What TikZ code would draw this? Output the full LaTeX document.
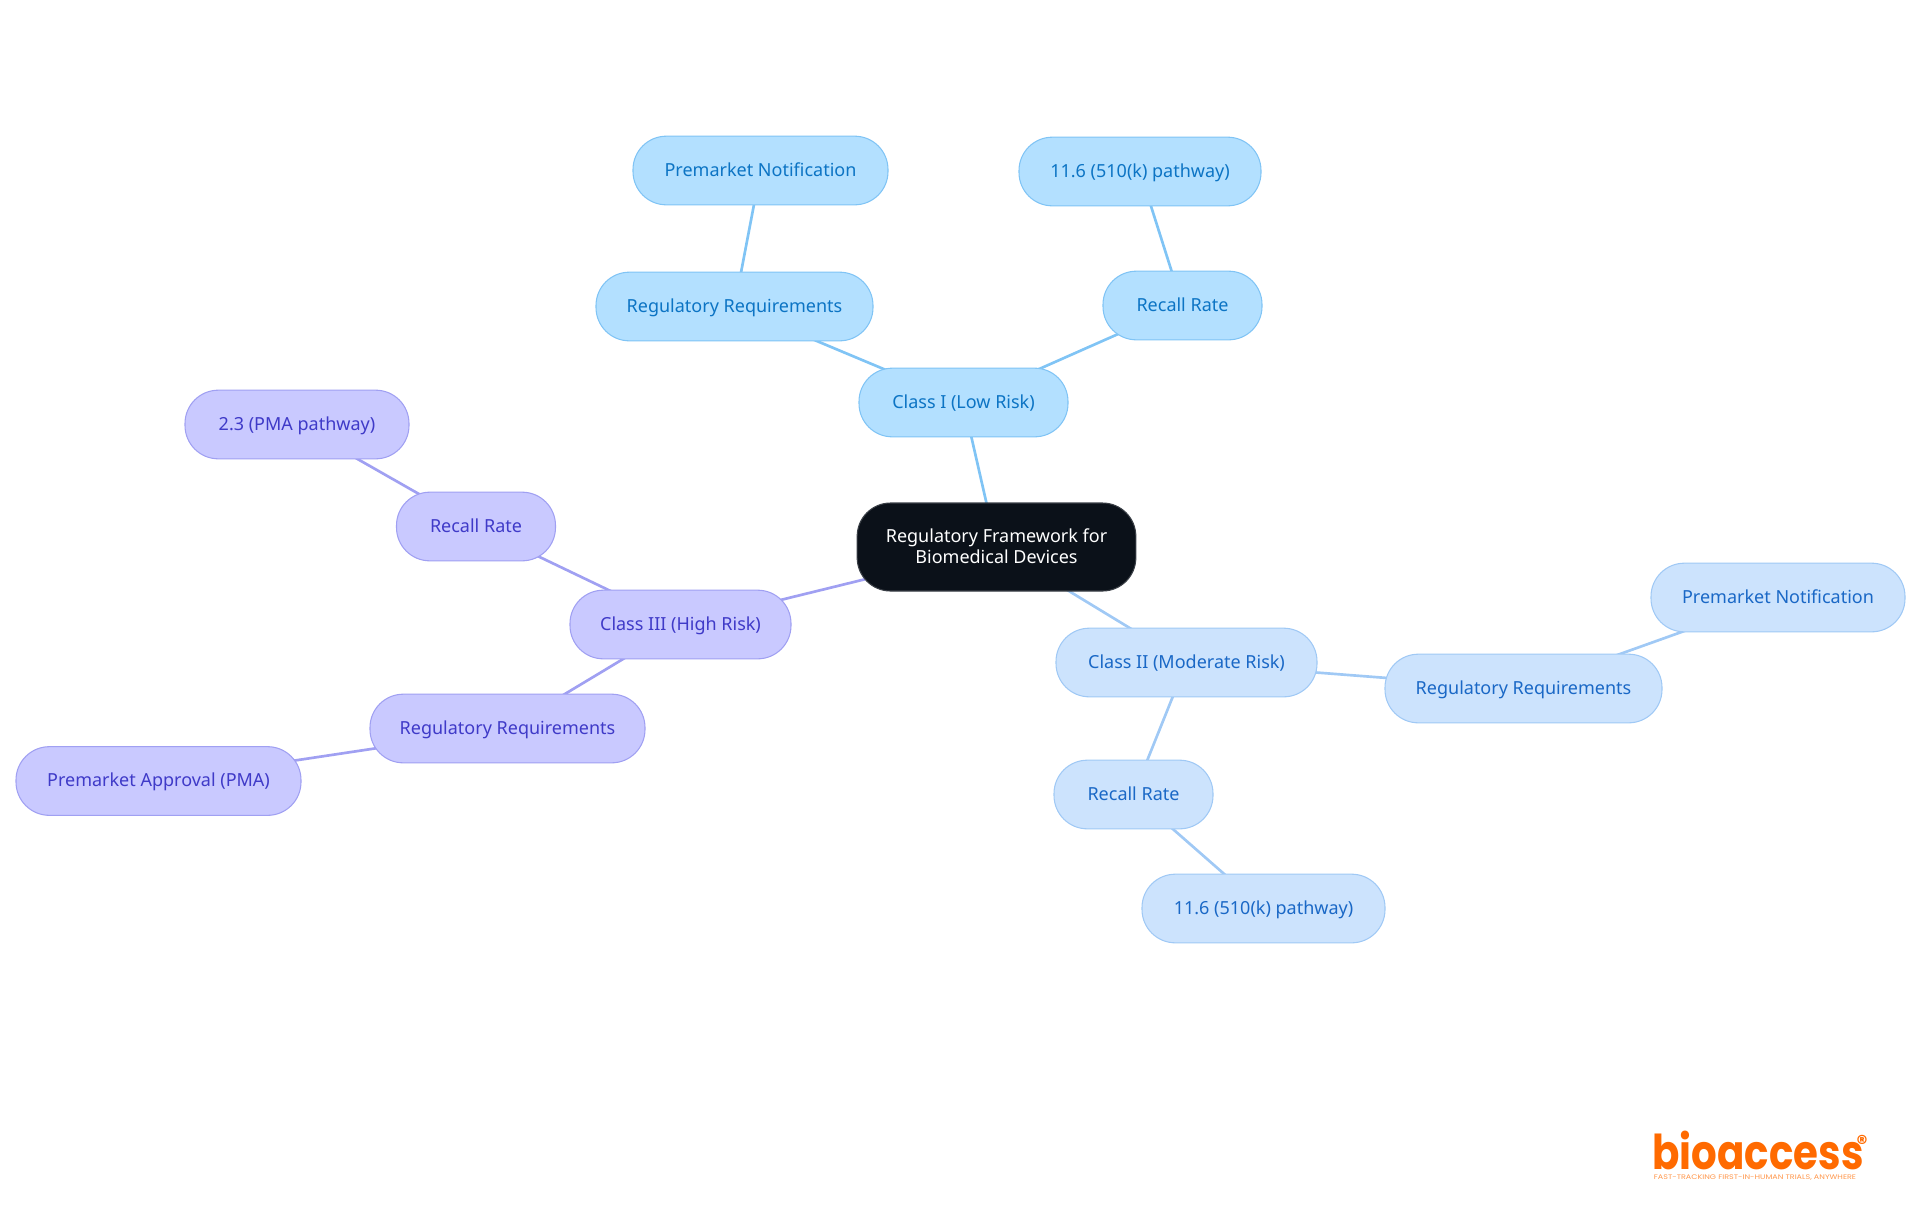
\documentclass[tikz,border=0pt]{standalone}
\usepackage{fontspec}
\setmainfont{Noto Sans}
\newfontfamily\logofont{Poppins}
\usetikzlibrary{backgrounds}
\definecolor{rootfill}{HTML}{0B1119}
\definecolor{rootline}{HTML}{3A3F46}
\definecolor{lowfill}{HTML}{B3E0FF}
\definecolor{lowline}{HTML}{80C4F5}
\definecolor{lowtext}{HTML}{0C74C4}
\definecolor{modfill}{HTML}{CCE3FD}
\definecolor{modline}{HTML}{A0C9F5}
\definecolor{modtext}{HTML}{1A68C6}
\definecolor{highfill}{HTML}{C9C9FF}
\definecolor{highline}{HTML}{A0A0F2}
\definecolor{hightext}{HTML}{3F3AC8}
\definecolor{logoorange}{HTML}{FF6A00}
\tikzset{
  box/.style={rounded corners=25pt, font=\fontsize{13.5}{15.5}\selectfont, align=center, line width=0.8pt, inner sep=0pt},
  oneline/.style={box, text height=11pt, text depth=2.2pt},
  lowbox/.style={oneline, draw=lowline, fill=lowfill, text=lowtext},
  modbox/.style={oneline, draw=modline, fill=modfill, text=modtext},
  highbox/.style={oneline, draw=highline, fill=highfill, text=hightext},
  rootbox/.style={box, draw=rootline, fill=rootfill, text=white},
  lowedge/.style={draw=lowline, line width=2pt},
  modedge/.style={draw=modline, line width=2pt},
  highedge/.style={draw=highline, line width=2pt}
}
\begin{document}
\begin{tikzpicture}[x=0.75pt, y=-0.75pt]
  \useasboundingbox (0, 0) rectangle (1920, 1215);
  \node[rootbox, minimum width=209pt, minimum height=66pt] (root) at (996.5, 547) {Regulatory Framework for\\Biomedical Devices\rule[-1.8pt]{0pt}{1pt}};
  \node[lowbox, minimum width=156.75pt, minimum height=51.5pt] (lowclass) at (963.5, 402.5) {Class I (Low Risk)};
  \node[lowbox, minimum width=207.75pt, minimum height=51.5pt] (lowreq) at (734.5, 306.5) {Regulatory Requirements};
  \node[lowbox, minimum width=191.25pt, minimum height=51.5pt] (lowpath) at (760.5, 170.5) {Premarket Notification};
  \node[lowbox, minimum width=119.25pt, minimum height=51.5pt] (lowrecall) at (1182.5, 305.5) {Recall Rate};
  \node[lowbox, minimum width=181.5pt, minimum height=51.5pt] (lowrate) at (1140, 171.5) {11.6 (510(k) pathway)};
  \node[modbox, minimum width=195.75pt, minimum height=51.5pt] (modclass) at (1186.5, 662.5) {Class II (Moderate Risk)};
  \node[modbox, minimum width=207.75pt, minimum height=51.5pt] (modreq) at (1523.5, 688.5) {Regulatory Requirements};
  \node[modbox, minimum width=190.5pt, minimum height=51.5pt] (modpath) at (1778, 597.5) {Premarket Notification};
  \node[modbox, minimum width=119.25pt, minimum height=51.5pt] (modrecall) at (1133.5, 794.5) {Recall Rate};
  \node[modbox, minimum width=182.25pt, minimum height=51.5pt] (modrate) at (1263.5, 908.5) {11.6 (510(k) pathway)};
  \node[highbox, minimum width=165.75pt, minimum height=51.5pt] (highclass) at (680.5, 624.5) {Class III (High Risk)};
  \node[highbox, minimum width=119.25pt, minimum height=51.5pt] (highrecall) at (476, 526.5) {Recall Rate};
  \node[highbox, minimum width=168pt, minimum height=51.5pt] (highrate) at (297, 424.5) {2.3 (PMA pathway)};
  \node[highbox, minimum width=206.25pt, minimum height=51.5pt] (highreq) at (507.5, 728.5) {Regulatory Requirements};
  \node[highbox, minimum width=213.75pt, minimum height=51.5pt] (highpath) at (158.5, 781) {Premarket Approval (PMA)};
  \begin{scope}[on background layer]
    \draw[lowedge] (root.center) -- (lowclass.center);
    \draw[lowedge] (lowclass.center) -- (lowreq.center);
    \draw[lowedge] (lowreq.center) -- (lowpath.center);
    \draw[lowedge] (lowclass.center) -- (lowrecall.center);
    \draw[lowedge] (lowrecall.center) -- (lowrate.center);
    \draw[modedge] (root.center) -- (modclass.center);
    \draw[modedge] (modclass.center) -- (modreq.center);
    \draw[modedge] (modreq.center) -- (modpath.center);
    \draw[modedge] (modclass.center) -- (modrecall.center);
    \draw[modedge] (modrecall.center) -- (modrate.center);
    \draw[highedge] (root.center) -- (highclass.center);
    \draw[highedge] (highclass.center) -- (highrecall.center);
    \draw[highedge] (highrecall.center) -- (highrate.center);
    \draw[highedge] (highclass.center) -- (highreq.center);
    \draw[highedge] (highreq.center) -- (highpath.center);
  \end{scope}
  \node[inner sep=0pt, text=logoorange, xscale=0.84, font=\logofont\bfseries\fontsize{36}{36}\selectfont] (logo) at (1758, 1150) {bioaccess};
  \node[inner sep=0pt, text=logoorange, font=\logofont\bfseries\fontsize{16}{16}\selectfont] (logomark) at (1862, 1143) {®};
  \node[inner sep=0pt, text=logoorange!70, xscale=1.2, font=\logofont\fontsize{5}{5}\selectfont] (logotag) at (1755, 1178) {FAST-TRACKING FIRST-IN-HUMAN TRIALS, ANYWHERE};
\end{tikzpicture}
\end{document}
